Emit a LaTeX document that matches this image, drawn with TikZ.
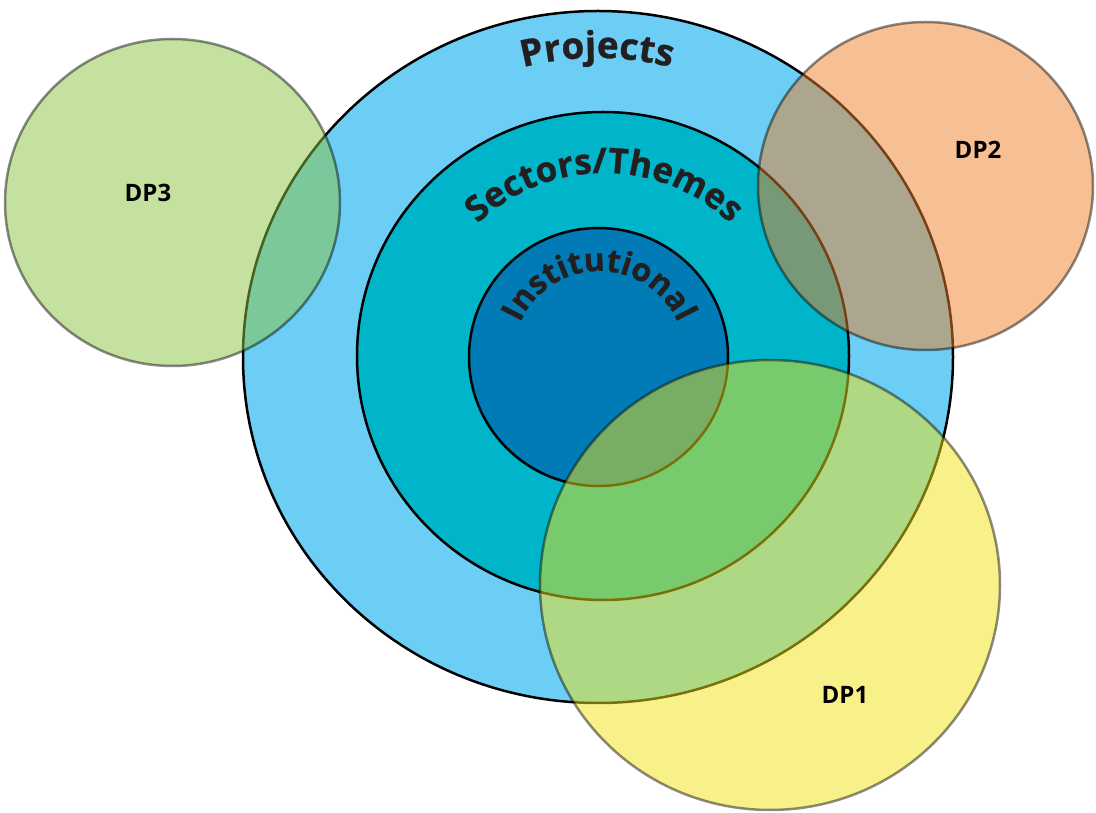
\documentclass[tikz,border=0pt]{standalone}
\usepackage{fontspec}
\setmainfont{Open Sans}
\newfontfamily\heavyfont{Open Sans}[BoldFeatures={FakeBold=0.8}]
\usetikzlibrary{decorations.text}
\definecolor{projblue}{RGB}{108,206,245}
\definecolor{sectteal}{RGB}{0,180,201}
\definecolor{instblue}{RGB}{0,123,181}
\definecolor{dpgreen}{RGB}{139,196,66}
\definecolor{dporange}{RGB}{239,128,41}
\definecolor{dpyellow}{RGB}{241,226,18}
\definecolor{textdark}{RGB}{35,31,32}
\begin{document}
\begin{tikzpicture}[x=1pt,y=1pt,
  ring/.style={draw=black, line width=2.5pt},
  dpcircle/.style={draw=black, line width=2.5pt, fill opacity=0.5, draw opacity=0.45},
  dplabel/.style={font=\fontsize{24}{24}\selectfont\bfseries, text=black},
  arctext/.style={decorate, decoration={text along path, text align=center, #1}}
]
\useasboundingbox (0,0) rectangle (1096,812);
% main rings
\draw[ring, fill=projblue] (598,455) ellipse[x radius=355, y radius=346];
\draw[ring, fill=sectteal] (603,456) ellipse[x radius=246, y radius=244];
\draw[ring, fill=instblue] (598.5,455) ellipse[x radius=129.5, y radius=129];
% curved labels
\path[arctext={text={|\fontsize{37}{37}\selectfont\heavyfont\bfseries\color{textdark}|Projects}}]
  (597,455) ++(160:299) arc[start angle=160, end angle=20, radius=299];
\path[arctext={text={|\fontsize{35}{35}\selectfont\heavyfont\bfseries\color{textdark}|Sectors/Themes}}]
  (604,456) ++(170:183) arc[start angle=170, end angle=10, radius=183];
\path[arctext={text={|\fontsize{32}{32}\selectfont\heavyfont\bfseries\color{textdark}|Institutional}}]
  (599,455) ++(175:86) arc[start angle=175, end angle=5, radius=86];
% donor partner circles
\draw[dpcircle, fill=dpgreen] (172.5,609.5) ellipse[x radius=167.5, y radius=163.5];
\draw[dpcircle, fill=dporange] (925.5,626) ellipse[x radius=167.5, y radius=164];
\draw[dpcircle, fill=dpyellow] (770,227) ellipse[x radius=230, y radius=225];
\node[dplabel] (dp3) at (148,619) {DP3};
\node[dplabel] (dp2) at (978,662) {DP2};
\node[dplabel] (dp1) at (845,117) {DP1};
\end{tikzpicture}
\end{document}
